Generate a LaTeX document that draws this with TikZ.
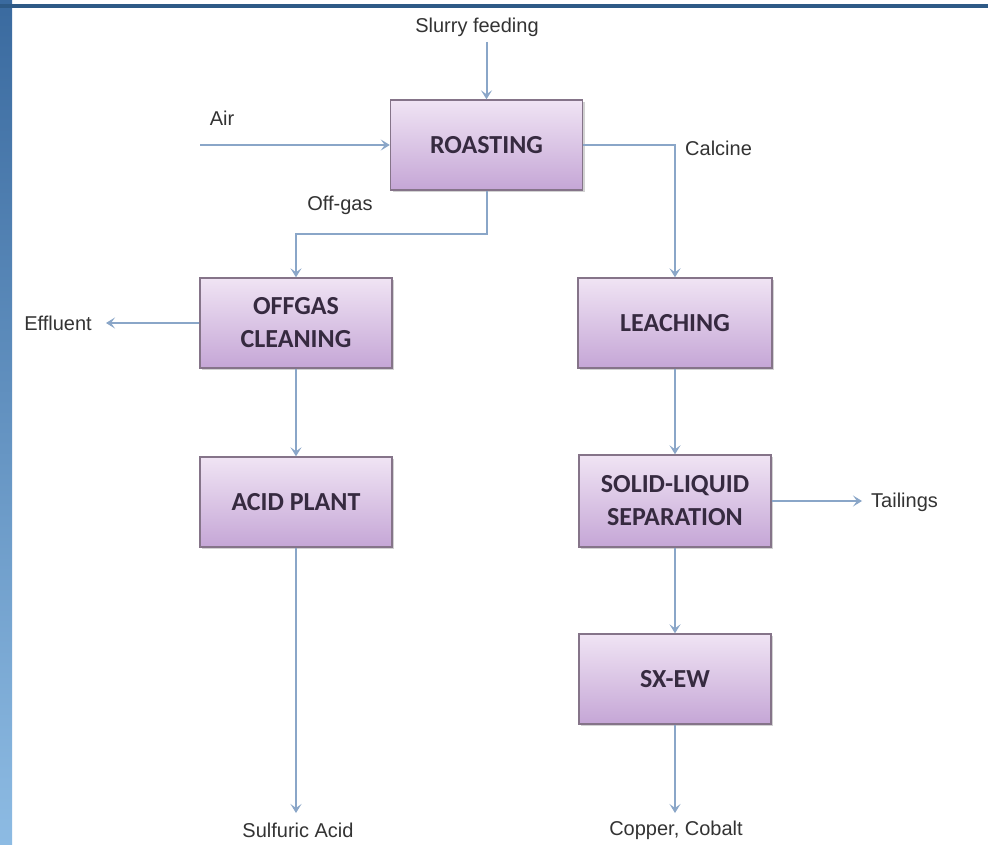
\documentclass[tikz,border=0pt]{standalone}
\usepackage{fontspec}
\setmainfont{Liberation Sans}
\newfontfamily\boxfont{Carlito}
\usetikzlibrary{arrows.meta,shadows}
\definecolor{arrowc}{HTML}{8AA6C8}
\definecolor{boxtop}{HTML}{F0E4F4}
\definecolor{boxbot}{HTML}{C5A6D6}
\definecolor{boxline}{HTML}{857489}
\definecolor{boxtext}{HTML}{362A40}
\definecolor{labtext}{HTML}{333333}
\definecolor{bandc}{HTML}{2E5A86}
\definecolor{stript}{HTML}{3A6A9F}
\definecolor{stripb}{HTML}{8DBBE3}
\tikzset{
  procbox/.style={draw=boxline, line width=1.4pt, top color=boxtop, bottom color=boxbot,
    minimum width=192pt, minimum height=90pt, align=center, inner sep=0pt,
    text=boxtext, font=\boxfont\bfseries\fontsize{26}{33}\selectfont,
    drop shadow={opacity=0.35, shadow xshift=2pt, shadow yshift=-2pt}},
  lab/.style={text=labtext, font=\fontsize{20}{24}\selectfont, inner sep=0pt},
  flow/.style={draw=arrowc, line width=2pt, -{Stealth[length=9pt,width=11pt,inset=4pt]}}
}
\begin{document}
\begin{tikzpicture}[x=1pt,y=-1pt]
\useasboundingbox (0,0) rectangle (988,845);
\fill[white] (0,0) rectangle (988,845);
\fill[top color=stript, bottom color=stripb] (0,0) rectangle (12,845);
\fill[bandc] (0,4) rectangle (988,8);

\node[procbox] (roast) at (486.5,145) {ROASTING};
\node[procbox] (offgas) at (296,323) {OFFGAS\\CLEANING};
\node[procbox, minimum width=194pt] (leach) at (675,323) {LEACHING};
\node[procbox] (acid) at (296,502) {ACID PLANT};
\node[procbox, minimum height=92pt] (solid) at (675,501) {SOLID-LIQUID\\SEPARATION};
\node[procbox] (sxew) at (675,679) {SX-EW};

\node[lab] (slurry) at (477,27) {Slurry feeding};
\coordinate (slurryend) at (486.5,42);
\node[lab] (air) at (222,118) {Air};
\coordinate (airend) at (200,145);
\node[lab, anchor=west] (calcine) at (685,148) {Calcine};
\node[lab] (offlab) at (340,205) {Off-gas};
\node[lab, anchor=east] (effluent) at (92,323) {Effluent};
\coordinate (effend) at (106,323);
\node[lab, anchor=west] (tail) at (871,502) {Tailings};
\coordinate (tailend) at (862,501);
\node[lab] (sulf) at (298,830) {Sulfuric Acid};
\coordinate (sulfend) at (296,813);
\node[lab] (cu) at (676,830) {Copper, Cobalt};
\coordinate (cuend) at (675,813);

\draw[flow] (slurryend) -- (roast.north);
\draw[flow] (airend) -- (roast.west);
\draw[flow] (roast.east) -| (leach.north);
\draw[flow] (roast.south) -- ++(0,43) -| (offgas.north);
\draw[flow] (offgas.west) -- (effend);
\draw[flow] (offgas.south) -- (acid.north);
\draw[flow] (acid.south) -- (sulfend);
\draw[flow] (leach.south) -- (solid.north);
\draw[flow] (solid.east) -- (tailend);
\draw[flow] (solid.south) -- (sxew.north);
\draw[flow] (sxew.south) -- (cuend);
\end{tikzpicture}
\end{document}
